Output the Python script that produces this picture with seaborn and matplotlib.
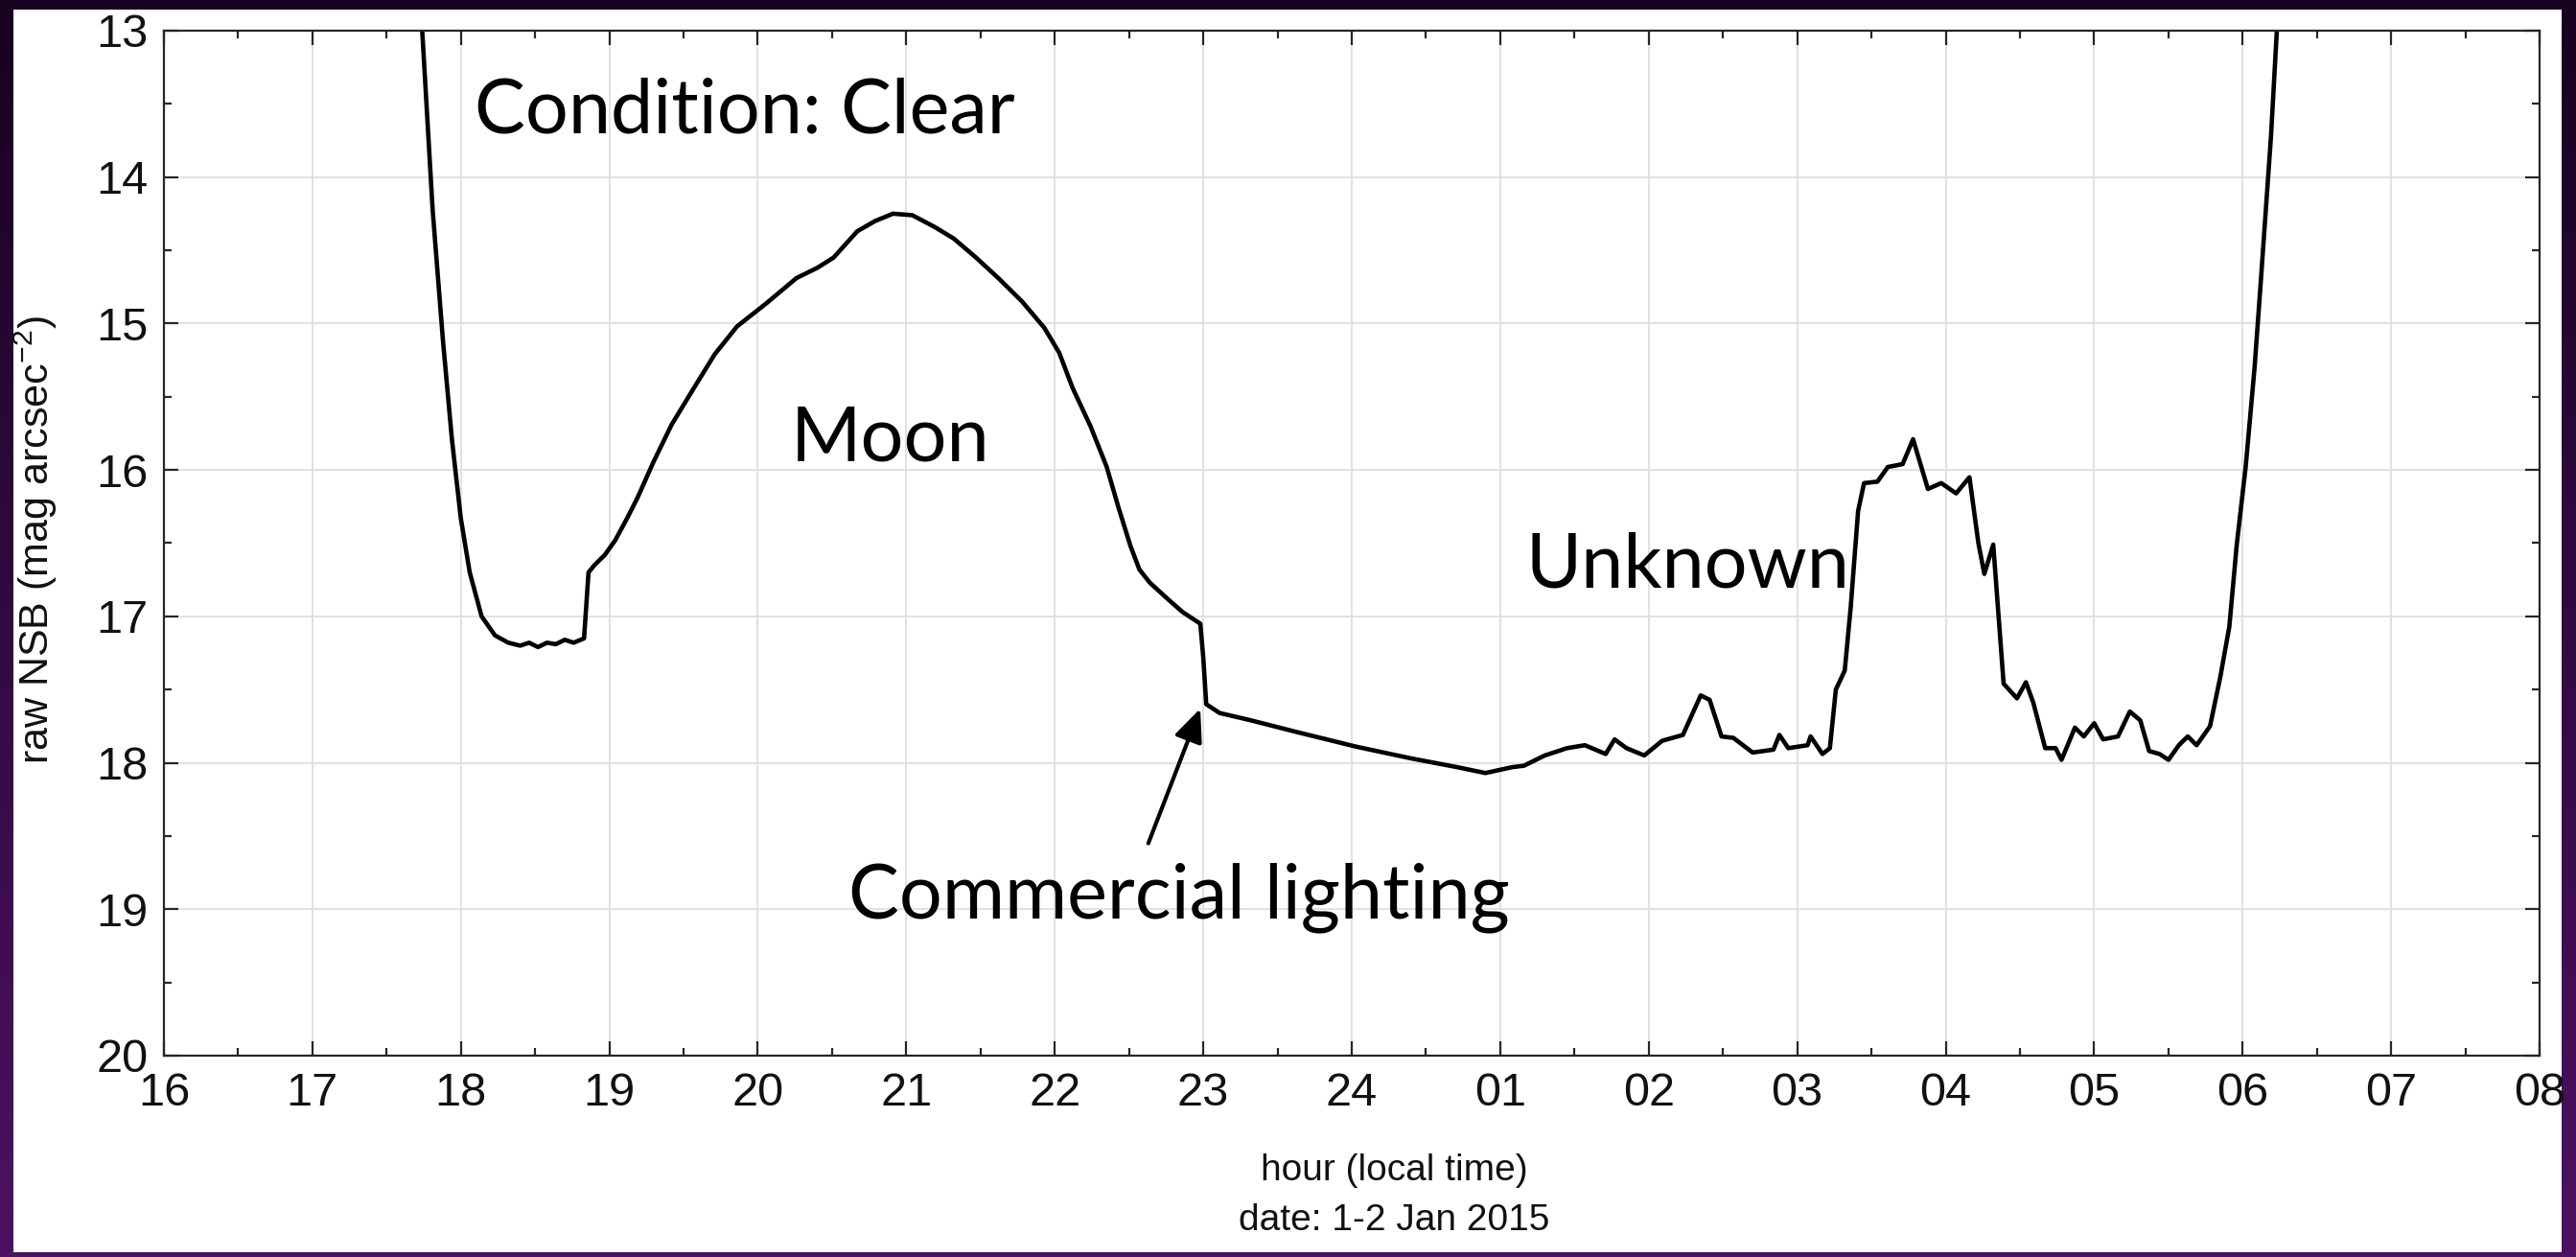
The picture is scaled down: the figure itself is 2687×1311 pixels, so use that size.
"""
Night sky brightness over one clear night (1-2 Jan 2015), with the
moon, the commercial lighting switch-off and an unknown event marked.
Writes out.png.
"""
import numpy as np
import pandas as pd
import matplotlib
matplotlib.use("Agg")
import matplotlib.pyplot as plt
import seaborn as sns
from matplotlib.patches import Rectangle

# hours since midnight of 1 Jan (25 = 01:00 on 2 Jan)
HOURS = [
    17.66, 17.74, 17.81, 17.88, 17.94, 18.00, 18.06, 18.14, 18.23, 18.32,
    18.40, 18.46, 18.52, 18.58, 18.64, 18.70, 18.76, 18.83, 18.86, 18.90,
    18.97, 19.04, 19.12, 19.19, 19.30, 19.42, 19.57, 19.71, 19.86, 20.06,
    20.26, 20.40, 20.51, 20.67, 20.79, 20.91, 21.04, 21.19, 21.32, 21.47,
    21.62, 21.78, 21.93, 22.03, 22.12, 22.24, 22.35, 22.43, 22.51, 22.57,
    22.64, 22.77, 22.86, 22.98, 23.00, 23.02, 23.11, 23.32, 23.63, 24.03,
    24.40, 24.71, 24.90, 25.08, 25.16, 25.30, 25.45, 25.57, 25.71, 25.77,
    25.85, 25.97, 26.09, 26.23, 26.35, 26.41, 26.49, 26.57, 26.70, 26.84,
    26.88, 26.94, 27.07, 27.09, 27.17, 27.22, 27.26, 27.32, 27.36, 27.41,
    27.45, 27.54, 27.61, 27.71, 27.78, 27.88, 27.97, 28.07, 28.16, 28.22,
    28.26, 28.32, 28.39, 28.48, 28.54, 28.59, 28.67, 28.74, 28.78, 28.87,
    28.93, 29.00, 29.06, 29.16, 29.24, 29.31, 29.37, 29.44, 29.50, 29.57,
    29.63, 29.69, 29.78, 29.85, 29.91, 29.96, 30.02, 30.08, 30.12, 30.19,
    30.23, 30.30,
]
NSB = [
    11.60, 13.00, 14.22, 15.12, 15.79, 16.33, 16.70, 17.00, 17.13, 17.18,
    17.20, 17.18, 17.21, 17.18, 17.19, 17.16, 17.18, 17.15, 16.70, 16.65,
    16.58, 16.48, 16.33, 16.19, 15.94, 15.69, 15.44, 15.21, 15.02, 14.86,
    14.69, 14.62, 14.55, 14.37, 14.30, 14.25, 14.26, 14.34, 14.42, 14.55,
    14.69, 14.85, 15.03, 15.20, 15.44, 15.70, 15.98, 16.26, 16.52, 16.68,
    16.77, 16.89, 16.97, 17.05, 17.28, 17.60, 17.66, 17.71, 17.79, 17.89,
    17.97, 18.03, 18.07, 18.03, 18.02, 17.95, 17.90, 17.88, 17.94, 17.84,
    17.90, 17.95, 17.85, 17.81, 17.54, 17.57, 17.82, 17.83, 17.93, 17.91,
    17.81, 17.90, 17.88, 17.82, 17.94, 17.90, 17.50, 17.37, 16.94, 16.28,
    16.09, 16.08, 15.98, 15.96, 15.79, 16.13, 16.09, 16.16, 16.05, 16.50,
    16.71, 16.51, 17.46, 17.56, 17.45, 17.59, 17.90, 17.90, 17.98, 17.76,
    17.82, 17.73, 17.84, 17.82, 17.65, 17.71, 17.92, 17.94, 17.98, 17.88,
    17.82, 17.88, 17.75, 17.41, 17.07, 16.51, 15.98, 15.30, 14.74, 13.73,
    13.00, 11.80,
]

HOUR_TICKS = list(range(16, 33))
HOUR_LABELS = ["16", "17", "18", "19", "20", "21", "22", "23", "24",
               "01", "02", "03", "04", "05", "06", "07", "08"]
NSB_TICKS = list(range(13, 21))

# (text, hour, mag) with the text's left baseline at that point
NOTES = [
    ("Condition: Clear", 18.09, 13.70),
    ("Moon", 20.22, 15.94),
    ("Unknown", 25.17, 16.80),
    ("Commercial lighting", 20.61, 19.06),
]
ARROW_TAIL = (22.63, 18.55)
ARROW_HEAD = (22.98, 17.63)

sns.set_theme(style="whitegrid")
plt.rcParams["font.family"] = ["Liberation Sans", "DejaVu Sans"]
plt.rcParams["mathtext.default"] = "regular"
NOTE_FONT = ["Lato", "DejaVu Sans"]

df = pd.DataFrame({"hour": HOURS, "nsb": NSB})

fig = plt.figure(figsize=(26.87, 13.11), dpi=100)

# slide background: dark purple gradient with a white panel on it
bg = fig.add_axes([0, 0, 1, 1], zorder=-10)
top_c = np.array([0x17, 0x03, 0x20]) / 255
bot_c = np.array([0x4c, 0x12, 0x62]) / 255
t = np.linspace(0, 1, 256)[:, None]
grad = (top_c[None, :] * (1 - t) + bot_c[None, :] * t)[:, None, :]
bg.imshow(grad, aspect="auto", extent=[0, 1, 0, 1], origin="upper")
bg.add_patch(Rectangle((0.0052, 0.0038), 0.9892, 0.9886, facecolor="white",
                       edgecolor="none", transform=bg.transAxes))
bg.set_axis_off()

ax = fig.add_axes([0.0636, 0.1602, 0.9223, 0.8154])
ax.set_facecolor("white")
sns.lineplot(data=df, x="hour", y="nsb", ax=ax, color="black", lw=3.3,
             estimator=None, sort=False)

ax.set_xlim(16, 32)
ax.set_ylim(20, 13)
ax.set_xticks(HOUR_TICKS)
ax.set_xticklabels(HOUR_LABELS)
ax.set_yticks(NSB_TICKS)
ax.set_xticks(np.arange(16.5, 32, 1), minor=True)
ax.set_yticks(np.arange(13.5, 20, 1), minor=True)
ax.grid(True, which="major", color="#dedede", lw=1.3)
ax.grid(False, which="minor")
for s in ax.spines.values():
    s.set_visible(True)
    s.set_color("#262626")
    s.set_linewidth(1.6)
ax.tick_params(which="both", direction="in", top=True, right=True,
               bottom=True, left=True, color="#262626", width=1.6)
ax.tick_params(which="major", length=11, labelsize=35, pad=12,
               labelcolor="#111111")
ax.tick_params(which="minor", length=6)

ax.set_xlabel("hour (local time)\ndate: 1-2 Jan 2015", fontsize=28,
              color="#111111", linespacing=1.6)
ax.xaxis.set_label_coords(0.518, -0.095)
ax.set_ylabel("raw NSB (mag arcsec$^{-2}$)", fontsize=31, color="#111111")
ax.yaxis.set_label_coords(-0.044, 0.503)

for text, hx, my in NOTES:
    ax.text(hx, my, text, fontsize=57, family=NOTE_FONT, color="black",
            ha="left", va="baseline")

ax.annotate("", xy=ARROW_HEAD, xytext=ARROW_TAIL,
            arrowprops=dict(arrowstyle="-|>,head_length=0.8,head_width=0.35",
                            mutation_scale=26, lw=3, color="black",
                            shrinkA=0, shrinkB=0))

fig.savefig("out.png", dpi=100, facecolor=fig.get_facecolor())
plt.close(fig)
